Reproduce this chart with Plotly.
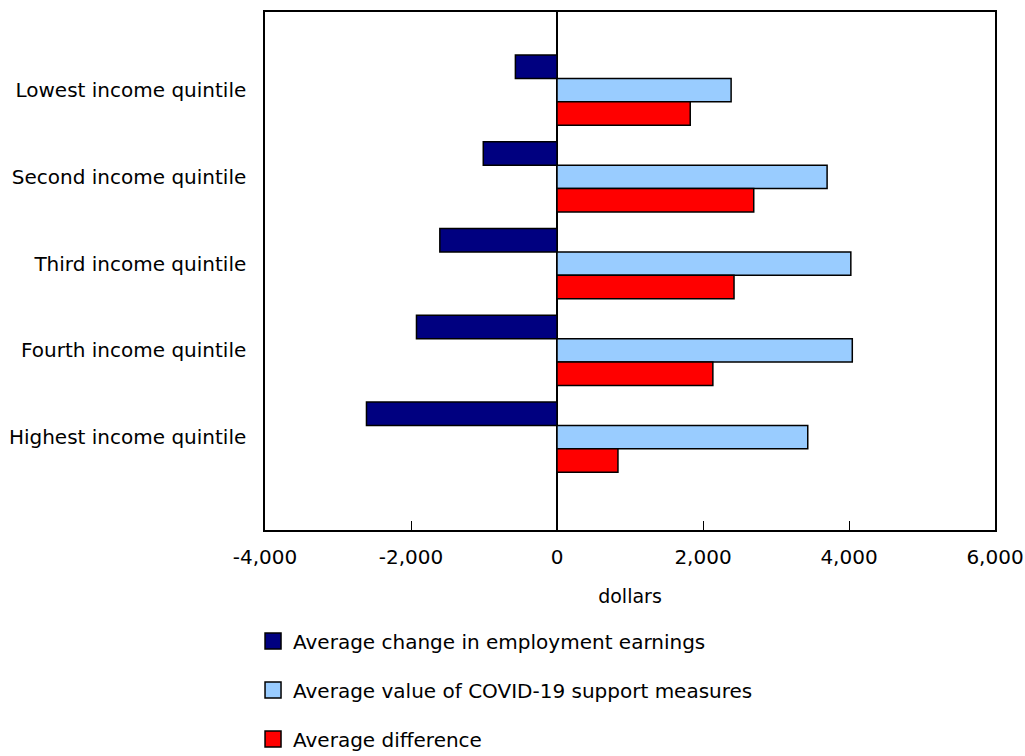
import plotly.graph_objects as go

CATEGORIES = [
    "Lowest income quintile",
    "Second income quintile",
    "Third income quintile",
    "Fourth income quintile",
    "Highest income quintile",
]
EARNINGS_CHANGE = [-570, -1010, -1605, -1925, -2610]
SUPPORT_VALUE = [2385, 3700, 4025, 4045, 3435]
DIFFERENCE = [1825, 2695, 2425, 2135, 835]

SERIES_NAMES = [
    "Average change in employment earnings",
    "Average value of COVID-19 support measures",
    "Average difference",
]
SERIES_COLORS = ["#000080", "#99CCFF", "#FF0000"]

TICK_VALUES = [-4000, -2000, 0, 2000, 4000, 6000]
TICK_LABELS = ["-4,000", "-2,000", "0", "2,000", "4,000", "6,000"]

FONT = "Verdana, DejaVu Sans, sans-serif"

fig = go.Figure()
for name, values, color in zip(
    SERIES_NAMES, [EARNINGS_CHANGE, SUPPORT_VALUE, DIFFERENCE], SERIES_COLORS
):
    fig.add_trace(
        go.Bar(
            x=values,
            y=CATEGORIES,
            orientation="h",
            name=name,
            legendgroup=name,
            showlegend=False,
            marker={"color": color, "line": {"color": "#000000", "width": 1.5}},
        )
    )

# legend-only entries, so the swatches can be bigger squares
for name, color in zip(SERIES_NAMES, SERIES_COLORS):
    fig.add_trace(
        go.Scatter(
            x=[None],
            y=[None],
            mode="markers",
            name=name,
            legendgroup=name,
            marker={
                "symbol": "square",
                "size": 16,
                "color": color,
                "line": {"color": "#000000", "width": 1.5},
            },
        )
    )

fig.update_layout(
    width=1025,
    height=756,
    margin={"l": 265, "r": 30, "t": 12, "b": 226, "autoexpand": False},
    barmode="group",
    bargap=0.19,
    bargroupgap=0,
    plot_bgcolor="white",
    paper_bgcolor="white",
    font={"family": FONT, "size": 20, "color": "#000000"},
    xaxis={
        "range": [-4000, 6000],
        "tickvals": TICK_VALUES,
        "ticktext": TICK_LABELS,
        "ticks": "inside",
        "ticklen": 9,
        "tickcolor": "#000000",
        "tickwidth": 1,
        "ticklabelstandoff": 8,
        "ticklabeloverflow": "allow",
        "showgrid": False,
        "zeroline": True,
        "zerolinecolor": "#000000",
        "zerolinewidth": 1.5,
        "showline": True,
        "linecolor": "#000000",
        "linewidth": 1.5,
        "mirror": True,
        "title": {"text": "dollars", "standoff": 22, "font": {"size": 19}},
        "fixedrange": True,
    },
    yaxis={
        "categoryorder": "array",
        "categoryarray": CATEGORIES,
        "range": [5.07, -0.9],
        "ticks": "",
        "ticklabelstandoff": 13,
        "showgrid": False,
        "showline": True,
        "linecolor": "#000000",
        "linewidth": 1.5,
        "mirror": True,
        "fixedrange": True,
    },
    legend={
        "orientation": "v",
        "x": -0.0164,
        "xanchor": "left",
        "y": -0.1765,
        "yanchor": "top",
        "traceorder": "grouped",
        "tracegroupgap": 20,
        "font": {"family": FONT, "size": 20},
    },
    showlegend=True,
)

# drop the page's default body margin so the figure fills the window exactly
fig.write_html(
    "out.html",
    config={"displayModeBar": False},
    post_script="document.body.style.margin = '0';",
)
